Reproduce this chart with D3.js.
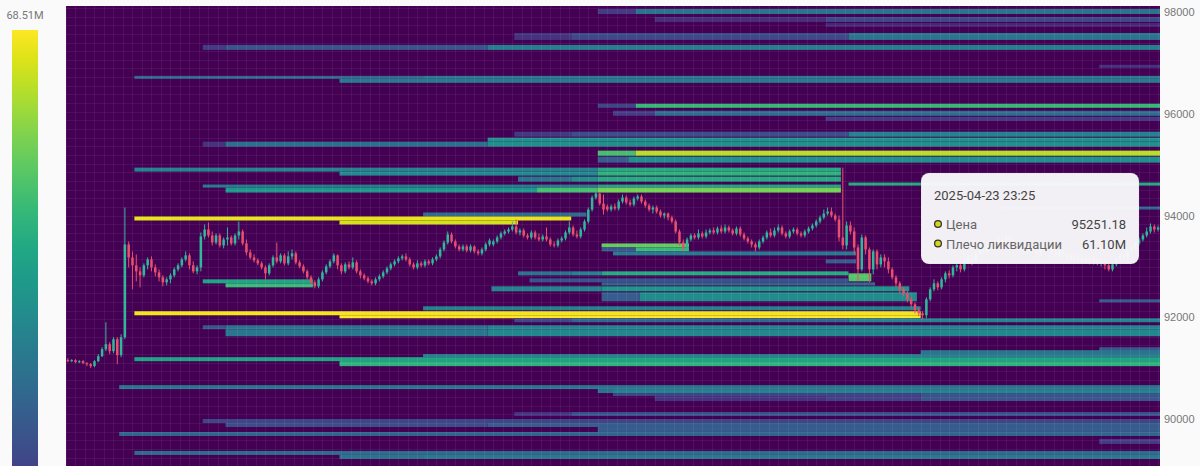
<!DOCTYPE html>
<html>
<head>
<meta charset="utf-8">
<script src="https://cdn.jsdelivr.net/npm/d3@7"></script>
<style>
  body { margin: 0; background: #fafafa; }
  svg { display: block; font-family: Roboto, "Noto Sans", sans-serif; }
</style>
</head>
<body>
<div id="chart"></div>
<script>
// ---------- data ----------
const legendMax = 68.51;                       // M, top of colour scale
const priceTicks = [90000, 92000, 94000, 96000, 98000];

// 5-min candles: [open, high, low, close]
const candles = [
  [91157,91196,91117,91137],[91137,91176,91117,91157],[91157,91176,91098,91117],[91117,91157,91098,91137],
  [91137,91157,91078,91098],[91098,91117,91039,91078],[91078,91098,91000,91039],[91039,91157,91019,91137],
  [91137,91274,91117,91235],[91235,91412,91215,91372],[91372,91902,91333,91470],[91470,91510,91274,91333],
  [91333,91608,91294,91568],[91568,91608,91078,91255],[91255,91666,91215,91608],[91608,94157,91568,93431],
  [93431,93490,92980,93176],[93176,93294,92549,93020],[93020,93235,92706,92902],[92902,92980,92588,92824],
  [92824,93059,92784,93020],[93020,93176,92941,93137],[93137,93196,92902,92980],[92980,93039,92804,92882],
  [92882,92941,92706,92784],[92784,92824,92608,92686],[92686,92784,92628,92745],[92745,92863,92667,92824],
  [92824,92980,92784,92941],[92941,93059,92902,93020],[93020,93176,92980,93137],[93137,93294,93098,93216],
  [93216,93255,92941,93020],[93020,93098,92863,92902],[92902,93020,92843,92980],[92980,93666,92902,93588],
  [93588,93823,93529,93725],[93725,93862,93568,93608],[93608,93686,93412,93470],[93470,93647,93431,93608],
  [93608,93647,93372,93412],[93412,93568,93353,93529],[93529,93764,93412,93568],[93568,93608,93412,93451],
  [93451,93647,93412,93608],[93608,93882,93529,93686],[93686,93725,93412,93451],[93451,93529,93216,93274],
  [93274,93333,93137,93176],[93176,93235,93078,93118],[93118,93157,93020,93059],[93059,93098,92941,92980],
  [92980,93020,92745,92863],[92863,93059,92824,93020],[93020,93216,92980,93176],[93176,93470,93059,93098],
  [93098,93255,93059,93216],[93216,93255,93020,93059],[93059,93294,93020,93196],[93196,93333,93137,93255],
  [93255,93294,93039,93078],[93078,93118,92961,93000],[93000,93039,92863,92902],[92902,92941,92745,92784],
  [92784,92824,92647,92686],[92686,92726,92569,92608],[92608,92784,92569,92745],[92745,92922,92706,92882],
  [92882,93039,92843,93000],[93000,93137,92961,93098],[93098,93255,93059,93216],[93216,93235,92941,93020],
  [93020,93059,92843,92902],[92902,93078,92863,93039],[93039,93098,92941,92980],[92980,93176,92941,93078],
  [93078,93118,92863,92902],[92902,92941,92765,92824],[92824,92863,92726,92765],[92765,92804,92667,92706],
  [92706,92745,92628,92667],[92667,92784,92628,92745],[92745,92843,92706,92804],[92804,92922,92765,92882],
  [92882,93000,92843,92961],[92961,93078,92922,93039],[93039,93137,93000,93098],[93098,93196,93059,93157],
  [93157,93235,93118,93196],[93196,93255,93098,93137],[93137,93176,93000,93039],[93039,93078,92941,92980],
  [92980,93118,92941,93059],[93059,93098,92980,93020],[93020,93137,92980,93098],[93098,93137,93020,93059],
  [93059,93176,93020,93137],[93137,93235,93098,93196],[93196,93372,93157,93333],[93333,93510,93294,93470],
  [93470,93686,93431,93627],[93627,93666,93451,93490],[93490,93529,93353,93392],[93392,93431,93294,93333],
  [93333,93431,93294,93392],[93392,93431,93274,93314],[93314,93431,93274,93392],[93392,93412,93255,93294],
  [93294,93333,93216,93255],[93255,93372,93216,93333],[93333,93470,93294,93431],[93431,93549,93392,93510],
  [93431,93529,93392,93490],[93490,93608,93451,93568],[93568,93686,93529,93647],[93647,93725,93608,93686],
  [93686,93764,93647,93725],[93725,93882,93686,93784],[93784,93921,93627,93666],[93666,93745,93608,93706],
  [93706,93745,93568,93608],[93608,93647,93529,93568],[93568,93706,93529,93666],[93666,93706,93529,93568],
  [93568,93647,93490,93529],[93529,93627,93490,93588],[93588,93764,93490,93529],[93529,93568,93392,93431],
  [93431,93490,93372,93412],[93412,93549,93372,93510],[93510,93588,93470,93549],[93549,93706,93510,93666],
  [93666,93882,93627,93764],[93764,93804,93588,93627],[93627,93706,93549,93588],[93588,93764,93549,93725],
  [93725,93921,93686,93882],[93882,94157,93843,94117],[94117,94393,94078,94353],[94353,94470,94314,94431],
  [94431,94451,94196,94235],[94235,94412,94019,94117],[94176,94216,94078,94117],[94117,94216,94078,94176],
  [94176,94235,94098,94137],[94137,94314,94098,94274],[94274,94412,94235,94353],[94353,94393,94216,94255],
  [94255,94314,94176,94216],[94216,94373,94176,94334],[94334,94412,94294,94373],[94373,94412,94235,94274],
  [94274,94314,94157,94196],[94196,94235,94078,94117],[94117,94196,94039,94157],[94157,94196,94039,94078],
  [94078,94117,93960,94000],[94000,94059,93941,94039],[94039,94059,93902,93960],[93960,94000,93843,93882],
  [93882,93921,93647,93686],[93686,93725,93412,93470],[93470,93529,93294,93372],[93372,93568,93333,93529],
  [93529,93647,93490,93608],[93608,93647,93529,93568],[93568,93725,93529,93647],[93647,93686,93549,93588],
  [93588,93725,93549,93666],[93666,93745,93627,93706],[93706,93764,93627,93666],[93666,93784,93627,93745],
  [93745,93804,93647,93686],[93686,93823,93647,93764],[93764,93804,93666,93706],[93706,93745,93608,93647],
  [93647,93784,93608,93745],[93745,93784,93588,93627],[93627,93666,93510,93549],[93549,93588,93451,93490],
  [93490,93529,93372,93431],[93431,93470,93294,93372],[93372,93529,93333,93490],[93490,93608,93451,93568],
  [93568,93706,93529,93666],[93666,93745,93568,93608],[93608,93764,93568,93706],[93706,93823,93666,93764],
  [93764,93804,93608,93647],[93647,93686,93549,93588],[93588,93725,93549,93686],[93686,93764,93647,93725],
  [93725,93764,93608,93647],[93647,93686,93568,93608],[93608,93725,93568,93686],[93686,93784,93647,93745],
  [93745,93843,93706,93804],[93804,93921,93764,93882],[93882,94000,93843,93960],[93960,94117,93921,94039],
  [94039,94157,94000,94078],[94078,94157,93960,94000],[94000,94039,93882,93921],[93921,94000,93490,93568],
  [93568,94941,93333,93412],[93412,93882,93333,93804],[93804,93882,93627,93686],[93686,93764,93235,93372],
  [93372,93431,92706,92941],[92941,93627,92902,93568],[93568,93608,93235,93333],[93333,93372,92686,92941],
  [92941,93333,92843,93294],[93294,93333,92941,93039],[93039,93235,92980,93176],[93176,93235,92980,93098],
  [93098,93176,92863,92941],[92941,92980,92745,92784],[92784,92824,92588,92667],[92667,92706,92471,92549],
  [92549,92588,92412,92471],[92471,92510,92294,92353],[92353,92392,92196,92255],[92255,92294,92078,92137],
  [92137,92196,92020,92078],[92078,92118,91961,92039],[92039,92392,91980,92353],[92353,92588,92314,92549],
  [92549,92745,92510,92667],[92667,92706,92530,92588],[92588,92784,92549,92745],[92745,92902,92686,92863],
  [92863,92922,92765,92824],[92824,93020,92784,92980],[92980,93059,92902,93020],[93020,93059,92882,92941],
  [92941,93137,92902,93098],[93098,93235,93059,93176],[93176,93235,93020,93118],[93118,93274,93078,93255],
  [93255,93392,93216,93333],[93333,93372,93235,93294],[93294,93451,93255,93412],[93412,93549,93372,93490],
  [93490,93529,93372,93412],[93412,93588,93372,93529],[93529,93568,93431,93470],[93470,93627,93431,93568],
  [93568,93608,93470,93510],[93510,93549,93372,93412],[93412,93490,93353,93451],[93451,93490,93314,93353],
  [93353,93392,93235,93294],[93294,93412,93255,93372],[93372,93412,93274,93314],[93314,93353,93176,93235],
  [93235,93372,93196,93333],[93333,93451,93294,93412],[93412,93451,93314,93353],[93353,93392,93235,93274],
  [93274,93314,93176,93216],[93216,93333,93176,93294],[93294,93333,93196,93235],[93235,93274,93118,93157],
  [93157,93255,93118,93216],[93216,93255,93098,93137],[93137,93216,93078,93176],[93176,93216,93059,93098],
  [93098,93196,93059,93157],[93157,93196,93039,93078],[93078,93176,93039,93137],[93137,93176,93020,93059],
  [93059,93137,93000,93098],[93098,93137,92941,93020],[93020,93059,92902,92941],[92941,93078,92902,93039],
  [93039,93176,93000,93137],[93137,93255,93098,93216],[93216,93274,93137,93176],[93176,93333,93137,93294],
  [93294,93412,93255,93372],[93372,93490,93333,93451],[93451,93568,93412,93529],[93529,93647,93490,93608],
  [93608,93764,93568,93686],[93686,93843,93647,93784],[93784,93823,93666,93725],[93725,93804,93686,93764]
];

// liquidation bands: [priceLow, priceHigh, [[fromCandle, toCandle, valueM], ...]]
const bands = [
  [97960, 98059, [[140,150,12],[150,288,26]]],
  [97804, 97902, [[155,200,9],[200,288,15]]],
  [97706, 97784, [[200,288,7]]],
  [97451, 97588, [[118,133,10],[133,206,15],[206,288,26]]],
  [97255, 97353, [[36,42,12],[42,111,18],[111,288,29]]],
  [96902, 96961, [[272,288,10]]],
  [96686, 96745, [[18,94,22],[94,288,27]]],
  [96608, 96686, [[72,288,28]]],
  [96117, 96196, [[140,150,14],[150,288,46]]],
  [95960, 96059, [[144,155,12],[155,288,24]]],
  [95863, 95941, [[200,288,12]]],
  [95549, 95647, [[118,133,11],[133,206,16],[206,288,30]]],
  [95451, 95530, [[111,288,34]]],
  [95353, 95451, [[36,42,10],[42,111,25],[111,288,34]]],
  [95176, 95275, [[140,150,48],[150,288,61.1]]],
  [95039, 95157, [[140,148,20],[148,288,34]]],
  [94863, 94941, [[18,140,30],[140,204,42]]],
  [94784, 94863, [[72,140,32],[140,204,44]]],
  [94667, 94765, [[119,133,26],[133,140,34],[140,204,42]]],
  [94588, 94647, [[206,288,42]]],
  [94549, 94608, [[36,140,28],[140,204,40]]],
  [94451, 94549, [[42,124,36],[124,140,48],[140,204,54]]],
  [94117, 94176, [[246,288,22]]],
  [93980, 94059, [[94,137,24]]],
  [93902, 93980, [[18,133,66]]],
  [93823, 93902, [[72,119,64]]],
  [93372, 93451, [[141,164,52]]],
  [93294, 93372, [[141,150,18],[150,164,46]]],
  [93216, 93294, [[144,208,28]]],
  [93059, 93137, [[200,208,20]]],
  [92824, 92902, [[119,133,26],[133,141,30],[141,206,42]]],
  [92706, 92863, [[206,212,50]]],
  [92686, 92765, [[122,206,17]]],
  [92667, 92745, [[36,65,40]]],
  [92588, 92667, [[42,65,46]]],
  [92628, 92686, [[141,213,22]]],
  [92510, 92608, [[112,141,30],[141,222,36]]],
  [92314, 92490, [[141,151,20],[151,224,33]]],
  [92294, 92353, [[272,288,20]]],
  [92137, 92216, [[94,225,30]]],
  [92039, 92118, [[18,225,67]]],
  [91980, 92039, [[72,225,68.5]]],
  [91902, 91980, [[118,133,14],[133,206,22],[206,288,30]]],
  [91765, 91843, [[36,42,18],[42,111,26],[111,288,30]]],
  [91627, 91765, [[42,111,27],[111,288,32]]],
  [91333, 91411, [[272,288,18]]],
  [91274, 91353, [[225,288,26]]],
  [91215, 91274, [[94,288,30]]],
  [91137, 91215, [[18,288,40]]],
  [91039, 91137, [[72,288,44]]],
  [90588, 90666, [[14,288,26]]],
  [90510, 90588, [[140,144,26],[144,288,30]]],
  [90451, 90510, [[144,225,14],[225,288,18]]],
  [90353, 90451, [[155,200,10],[200,225,13],[225,288,18]]],
  [90059, 90137, [[118,133,10],[133,288,17]]],
  [89921, 90000, [[36,288,14]]],
  [89843, 89921, [[42,111,16],[111,288,20]]],
  [89745, 89843, [[140,288,20]]],
  [89666, 89745, [[14,288,22]]],
  [89510, 89608, [[272,288,12]]],
  [89294, 89372, [[18,288,24]]],
  [89216, 89294, [[72,94,26],[94,288,28]]]
];

const tooltipTitle = "2025-04-23 23:25";
const tooltipRows = [["Цена", "95251.18"], ["Плечо ликвидации", "61.10M"]];

// ---------- layout ----------
const width = 1200, height = 466;
const plot = {left: 66, right: 1160, top: 6, bottom: 466};

const svg = d3.select("#chart").append("svg")
  .attr("width", width)
  .attr("height", height);

const x = d3.scaleLinear().domain([0, candles.length]).range([plot.left, plot.right]);
const y = d3.scaleLinear().domain([90000, 98000]).range([419, 12]);
const color = d3.scaleSequential(d3.interpolateViridis).domain([0, legendMax]);

svg.append("clipPath").attr("id", "plotClip")
  .append("rect")
  .attr("x", plot.left).attr("y", plot.top)
  .attr("width", plot.right - plot.left).attr("height", plot.bottom - plot.top);

const g = svg.append("g").attr("clip-path", "url(#plotClip)");

// background
g.append("rect")
  .attr("x", plot.left).attr("y", plot.top)
  .attr("width", plot.right - plot.left).attr("height", plot.bottom - plot.top)
  .attr("fill", color(0));

// heatmap bands
const cells = [];
bands.forEach(b => b[2].forEach(s => cells.push({lo: b[0], hi: b[1], from: s[0], to: s[1], v: s[2]})));
g.selectAll(".cell")
  .data(cells)
  .join("rect")
  .attr("class", "cell")
  .attr("x", d => x(d.from))
  .attr("width", d => x(d.to) - x(d.from))
  .attr("y", d => y(d.hi))
  .attr("height", d => y(d.lo) - y(d.hi))
  .attr("fill", d => color(d.v));

// faint grid
const grid = g.append("g").attr("stroke", "rgba(255,255,255,0.06)").attr("stroke-width", 1);
grid.selectAll(".vg").data(d3.range(0, candles.length, 2.5))
  .join("line")
  .attr("x1", d => Math.round(x(d)) + 0.5).attr("x2", d => Math.round(x(d)) + 0.5)
  .attr("y1", plot.top).attr("y2", plot.bottom);
grid.selectAll(".hg").data(d3.range(88900, 98300, 170))
  .join("line")
  .attr("y1", d => Math.round(y(d)) + 0.5).attr("y2", d => Math.round(y(d)) + 0.5)
  .attr("x1", plot.left).attr("x2", plot.right);

// candles
const up = "#2fb89a", down = "#e8506e";
const bw = (x(1) - x(0)) * 0.66;
const cg = g.selectAll(".candle")
  .data(candles)
  .join("g")
  .attr("class", "candle");
cg.append("line")
  .attr("x1", (d, i) => x(i + 0.5)).attr("x2", (d, i) => x(i + 0.5))
  .attr("y1", d => y(d[1])).attr("y2", d => y(d[2]))
  .attr("stroke", d => d[3] >= d[0] ? up : down)
  .attr("stroke-width", 1);
cg.append("rect")
  .attr("x", (d, i) => x(i + 0.5) - bw / 2)
  .attr("width", bw)
  .attr("y", d => y(Math.max(d[0], d[3])))
  .attr("height", d => Math.max(1, Math.abs(y(d[0]) - y(d[3]))))
  .attr("fill", d => d[3] >= d[0] ? up : down);

// right price axis
svg.append("g")
  .attr("transform", `translate(${plot.right},0)`)
  .call(d3.axisRight(y).tickValues(priceTicks).tickSize(0).tickPadding(4).tickFormat(d3.format("d")))
  .call(a => a.select(".domain").remove())
  .selectAll("text")
  .attr("fill", "#777")
  .style("font-size", "11px");

// colour legend
const grad = svg.append("defs").append("linearGradient")
  .attr("id", "legendGrad")
  .attr("x1", 0).attr("y1", 1).attr("x2", 0).attr("y2", 0);
d3.range(0, 1.001, 0.05).forEach(t => {
  grad.append("stop").attr("offset", t).attr("stop-color", d3.interpolateViridis(t));
});
svg.append("rect")
  .attr("x", 12).attr("y", 30)
  .attr("width", 26).attr("height", 545)
  .attr("fill", "url(#legendGrad)");
svg.append("text")
  .attr("x", 25).attr("y", 19)
  .attr("text-anchor", "middle")
  .attr("fill", "#777")
  .style("font-size", "11px")
  .text(d3.format(".2f")(legendMax) + "M");

// tooltip
const tip = svg.append("g").attr("transform", "translate(921,173)");
tip.append("rect")
  .attr("width", 218).attr("height", 91)
  .attr("rx", 8)
  .attr("fill", "rgba(248,248,250,0.97)")
  .attr("stroke", "rgba(0,0,0,0.06)");
tip.append("text")
  .attr("x", 13).attr("y", 27)
  .attr("fill", "#444")
  .style("font-size", "13px")
  .text(tooltipTitle);
tooltipRows.forEach((r, i) => {
  const yy = 51 + i * 19.5;
  tip.append("circle")
    .attr("cx", 17).attr("cy", yy)
    .attr("r", 3.4)
    .attr("fill", "#d8d41c")
    .attr("stroke", "#333")
    .attr("stroke-width", 1.3);
  tip.append("text")
    .attr("x", 25).attr("y", yy + 5)
    .attr("fill", "#666")
    .style("font-size", "13px")
    .text(r[0]);
  tip.append("text")
    .attr("x", 205).attr("y", yy + 5)
    .attr("text-anchor", "end")
    .attr("fill", "#444")
    .style("font-size", "13px")
    .text(r[1]);
});
</script>
</body>
</html>
